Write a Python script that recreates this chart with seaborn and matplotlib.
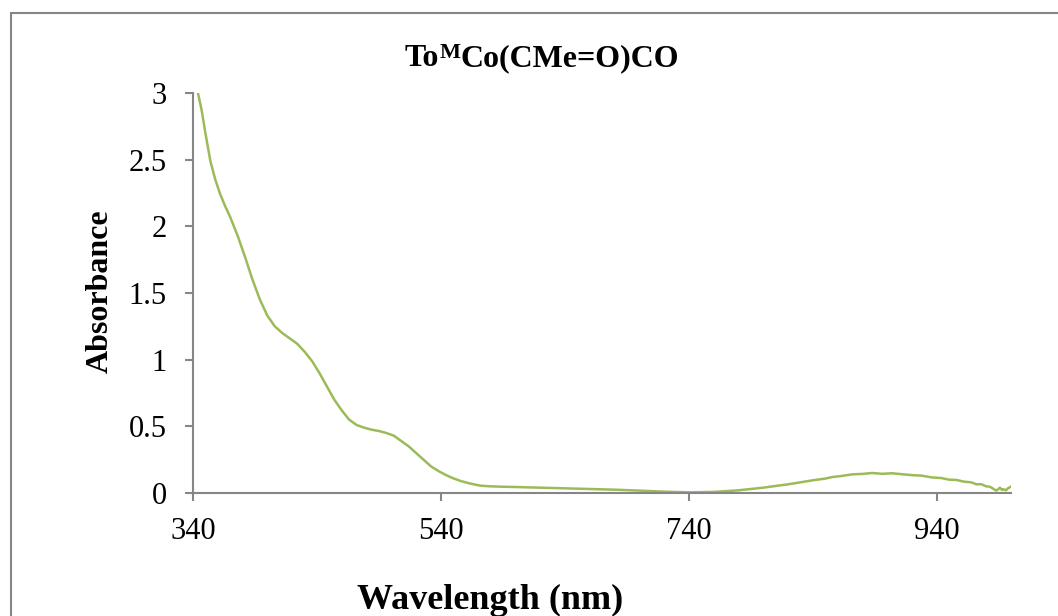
import matplotlib
matplotlib.use("Agg")
import matplotlib.pyplot as plt
from matplotlib.lines import Line2D
import seaborn as sns
import pandas as pd

# UV-vis spectrum of the cobalt acyl carbonyl complex
wavelength = [344, 347, 350, 354, 358, 362, 366, 370, 376, 382, 388, 394, 400,
              406, 412, 418, 424, 430, 436, 442, 448, 454, 460, 466, 472, 478,
              484, 490, 496, 502, 508, 514, 520, 526, 532, 538, 544, 550, 556,
              564, 572, 580, 590, 600, 620, 640, 660, 680, 700, 720, 740, 760,
              780, 800, 820, 840, 850, 856, 862, 872, 880, 888, 896, 904, 912,
              920, 928, 936, 944, 950, 956, 962, 968, 972, 976, 980, 983, 985,
              988, 990, 991, 993, 994, 996, 997, 1000]
absorbance = [3.0, 2.87, 2.70, 2.49, 2.35, 2.24, 2.15, 2.07, 1.93, 1.77, 1.60,
              1.45, 1.33, 1.25, 1.20, 1.16, 1.12, 1.06, 0.99, 0.90, 0.80, 0.70,
              0.62, 0.55, 0.51, 0.49, 0.475, 0.465, 0.45, 0.43, 0.39, 0.35,
              0.30, 0.25, 0.20, 0.165, 0.135, 0.11, 0.09, 0.07, 0.055, 0.05,
              0.047, 0.045, 0.04, 0.035, 0.03, 0.025, 0.018, 0.01, 0.005,
              0.008, 0.02, 0.04, 0.065, 0.095, 0.108, 0.12, 0.126, 0.14, 0.143,
              0.150, 0.144, 0.148, 0.141, 0.134, 0.130, 0.117, 0.112, 0.100,
              0.098, 0.085, 0.080, 0.065, 0.066, 0.050, 0.047, 0.036, 0.018,
              0.030, 0.040, 0.022, 0.028, 0.020, 0.032, 0.048]

x_ticks = [340, 540, 740, 940]
y_ticks = [0, 0.5, 1, 1.5, 2, 2.5, 3]
y_tick_labels = ["0", "0.5", "1", "1.5", "2", "2.5", "3"]

# title pieces: base text, superscript, remainder
title_parts = ["To", "M", "Co(CMe=O)CO"]
x_label = "Wavelength (nm)"
y_label = "Absorbance"

sns.set_style("ticks")
plt.rcParams["font.family"] = ["Liberation Serif", "DejaVu Serif"]
plt.rcParams["text.color"] = "black"

W, H = 1058, 616
fig = plt.figure(figsize=(W / 100, H / 100), dpi=100)
ax = fig.add_axes([193 / W, 1 - 493 / H, (1011 - 193) / W, (493 - 93) / H])

df = pd.DataFrame({"Wavelength": wavelength, "Absorbance": absorbance})
sns.lineplot(data=df, x="Wavelength", y="Absorbance", ax=ax,
             color="#9BBB59", linewidth=1.8)

axis_gray = "#868686"
ax.set_xlim(340, 1000)
ax.set_ylim(0, 3)
ax.set_xticks(x_ticks)
ax.set_xticklabels([str(t) for t in x_ticks])
ax.set_yticks(y_ticks)
ax.set_yticklabels(y_tick_labels)
for side in ("top", "right"):
    ax.spines[side].set_visible(False)
for side in ("left", "bottom"):
    ax.spines[side].set_color(axis_gray)
    ax.spines[side].set_linewidth(1.5)
ax.tick_params(axis="both", direction="out", length=6, width=1.5,
               color=axis_gray, labelsize=22, labelcolor="black")
ax.tick_params(axis="x", pad=11)
ax.tick_params(axis="y", pad=13)
ax.set_xlabel("")
ax.set_ylabel("")

# title assembled from pieces so the superscript sits just above cap height
renderer = fig.canvas.get_renderer()
title_size = 23
sup_size = 16
baseline_px = 66
sup_rise_px = 8
pieces = []
for i, part in enumerate(title_parts):
    size = sup_size if i == 1 else title_size
    t = fig.text(0, 0, part, fontsize=size, fontweight="bold",
                 ha="left", va="baseline")
    pieces.append(t)
widths = [p.get_window_extent(renderer).width for p in pieces]
x = 542 - sum(widths) / 2
for i, p in enumerate(pieces):
    y = baseline_px - (sup_rise_px if i == 1 else 0)
    p.set_position((x / W, 1 - y / H))
    x += widths[i]

fig.text(490 / W, 1 - 600 / H, x_label, ha="center", va="center",
         fontsize=26, fontweight="bold")
fig.text(100 / W, 1 - 291 / H, y_label, ha="center", va="center",
         rotation=90, fontsize=23, fontweight="bold")

# chart area border
top = 1 - 12.5 / H
left = 11 / W
fig.add_artist(Line2D([left, 1.0], [top, top], transform=fig.transFigure,
                      color=axis_gray, linewidth=1.5))
fig.add_artist(Line2D([left, left], [0.0, top], transform=fig.transFigure,
                      color=axis_gray, linewidth=1.5))

fig.savefig("out.png", dpi=100)
